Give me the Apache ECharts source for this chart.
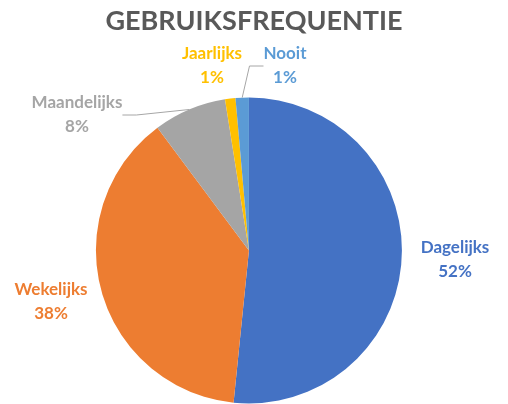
<!DOCTYPE html>
<html>
<head>
<meta charset="utf-8">
<script src="https://cdn.jsdelivr.net/npm/echarts@6/dist/echarts.min.js"></script>
<style>html,body{margin:0;padding:0;background:#fff}#c{width:508px;height:404px}</style>
</head>
<body>
<div id="c"></div>
<script>
var titleText = 'GEBRUIKSFREQUENTIE';
var categories = ['Dagelijks', 'Wekelijks', 'Maandelijks', 'Jaarlijks', 'Nooit'];
var values = [51.6, 38.2, 7.7, 1.1, 1.4];
var colors = ['#4472C4', '#ED7D31', '#A5A5A5', '#FFC000', '#5B9BD5'];
var showLines = [false, false, true, false, true];
// label block centres (layout only)
var labelCenters = [[455, 260], [51, 302], [77, 115], [212, 66], [285, 66]];

var chart = echarts.init(document.getElementById('c'), null, {renderer: 'canvas'});
var data = categories.map(function (name, i) {
  return {
    name: name,
    value: values[i],
    itemStyle: {color: colors[i]},
    label: {color: colors[i]},
    labelLine: {show: showLines[i]}
  };
});
chart.setOption({
  animation: false,
  title: {
    text: titleText,
    left: 'center',
    top: 3,
    textStyle: {fontFamily: 'Lato', fontWeight: 'bold', fontSize: 27, color: '#595959'}
  },
  series: [{
    type: 'pie',
    center: ['49%', '62%'],
    radius: 153,
    startAngle: 90,
    clockwise: true,
    data: data,
    label: {
      show: true,
      position: 'outside',
      fontFamily: 'Lato',
      fontWeight: 'bold',
      fontSize: 17,
      lineHeight: 24,
      overflow: 'none',
      formatter: function (p) { return p.name + '\n' + Math.round(p.percent) + '%'; }
    },
    labelLine: {length: 8, length2: 14, lineStyle: {color: '#A6A6A6', width: 1}},
    labelLayout: function (p) {
      var c = labelCenters[p.dataIndex];
      return {x: c[0], y: c[1], align: 'center', verticalAlign: 'middle', hideOverlap: false};
    },
    itemStyle: {borderWidth: 0}
  }]
});
</script>
</body>
</html>
